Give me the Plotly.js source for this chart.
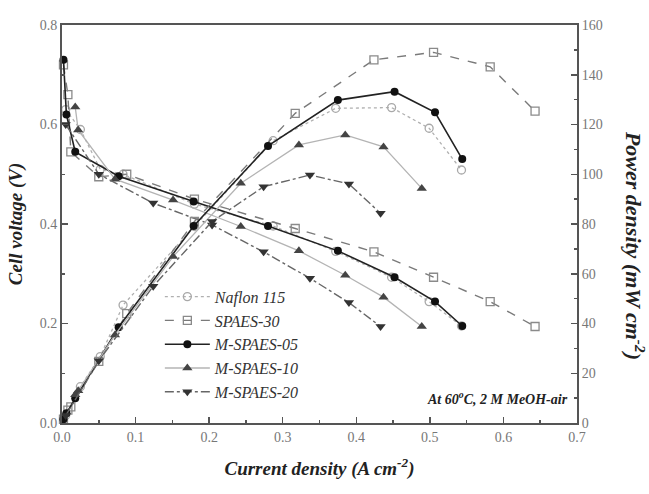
<!DOCTYPE html>
<html>
<head>
<meta charset="utf-8">
<script src="https://cdn.plot.ly/plotly-3.0.1.min.js"></script>
<style>html,body{margin:0;padding:0;background:#fff;}#chart{width:649px;height:494px;}</style>
</head>
<body>
<div id="chart"></div>
<script>
// ---- data ----
const seriesNames = ["Naflon 115", "SPAES-30", "M-SPAES-05", "M-SPAES-10", "M-SPAES-20"];

const naflonJ = [0.005, 0.025, 0.052, 0.083, 0.18, 0.287, 0.372, 0.448, 0.499, 0.543];
const naflonV = [0.63, 0.59, 0.51, 0.50, 0.44, 0.396, 0.345, 0.293, 0.244, 0.195];
const naflonP = [3.0, 14.6, 26.7, 47.4, 79.0, 113.5, 126.5, 126.8, 118.5, 101.7];

const spaes30J = [0.002, 0.008, 0.012, 0.05, 0.088, 0.18, 0.317, 0.424, 0.505, 0.582, 0.643];
const spaes30V = [0.72, 0.66, 0.545, 0.495, 0.50, 0.45, 0.391, 0.344, 0.293, 0.244, 0.194];
const spaes30P = [1.5, 5.2, 6.5, 24.8, 44.0, 81.0, 124.5, 146.0, 149.0, 143.2, 125.4];

const m05J = [0.002, 0.006, 0.018, 0.077, 0.179, 0.28, 0.375, 0.452, 0.507, 0.544];
const m05V = [0.73, 0.62, 0.545, 0.496, 0.445, 0.396, 0.346, 0.293, 0.244, 0.195];
const m05P = [1.5, 3.9, 9.9, 38.5, 79.2, 111.4, 129.8, 133.2, 124.9, 106.1];

const m10J = [0.018, 0.022, 0.072, 0.151, 0.243, 0.322, 0.385, 0.437, 0.489];
const m10V = [0.635, 0.589, 0.49, 0.448, 0.395, 0.346, 0.297, 0.253, 0.194];
const m10P = [11.4, 13.0, 35.4, 66.9, 96.4, 111.8, 115.8, 111.0, 94.3];

const m20J = [0.005, 0.05, 0.124, 0.204, 0.274, 0.337, 0.39, 0.433];
const m20V = [0.60, 0.50, 0.442, 0.398, 0.344, 0.291, 0.242, 0.194];
const m20P = [3.0, 25.0, 55.0, 81.0, 95.0, 99.7, 96.1, 84.3];

const xTickVals = [0, 0.1, 0.2, 0.3, 0.4, 0.5, 0.6, 0.7];
const yTickVals = [0, 0.2, 0.4, 0.6, 0.8];
const y2TickVals = [0, 20, 40, 60, 80, 100, 120, 140, 160];

// ---- styles ----
const styles = [
  {line:{color:"#b0b0b0", width:1.3, dash:"dot"}, marker:{symbol:"circle-open", size:8, color:"#a8a8a8", line:{width:1.3}}},
  {line:{color:"#7a7a7a", width:1.4, dash:"dash"}, marker:{symbol:"square-open", size:8, color:"#8a8a8a", line:{width:1.3}}},
  {line:{color:"#222", width:1.6, dash:"solid"}, marker:{symbol:"circle", size:8, color:"#111"}},
  {line:{color:"#b4b4b4", width:1.3, dash:"solid"}, marker:{symbol:"triangle-up", size:9, color:"#444"}},
  {line:{color:"#666", width:1.4, dash:"dashdot"}, marker:{symbol:"triangle-down", size:9, color:"#333"}}
];
const Js = [naflonJ, spaes30J, m05J, m10J, m20J];
const Vs = [naflonV, spaes30V, m05V, m10V, m20V];
const Ps = [naflonP, spaes30P, m05P, m10P, m20P];

const traces = [];
for (let i = 0; i < 5; i++) {
  traces.push({x: Js[i], y: Vs[i], name: seriesNames[i], type: "scatter", mode: "lines+markers",
    line: styles[i].line, marker: styles[i].marker, cliponaxis: false, yaxis: "y"});
}
for (let i = 0; i < 5; i++) {
  traces.push({x: Js[i], y: Ps[i], name: seriesNames[i], type: "scatter", mode: "lines+markers",
    line: styles[i].line, marker: styles[i].marker, cliponaxis: false, yaxis: "y2", showlegend: false});
}

const serif = "Liberation Serif, Times New Roman, serif";
const tickFont = {family: serif, size: 14, color: "#777"};
const titleFont = {family: serif, size: 19, color: "#222"};

const layout = {
  width: 649, height: 494,
  margin: {l: 62, r: 72, t: 25, b: 71},
  paper_bgcolor: "#fff", plot_bgcolor: "#fff",
  showlegend: true,
  legend: {x: 0.19, y: 0.36, xanchor: "left", yanchor: "top", bgcolor: "rgba(0,0,0,0)",
    font: {family: serif, size: 16, color: "#333", style: "italic"}, tracegroupgap: 0, itemwidth: 45},
  xaxis: {range: [0, 0.7], tickvals: xTickVals, tickformat: ".1f", ticks: "inside", ticklen: 6, tickwidth: 1.5,
    tickcolor: "#555", showline: true, linecolor: "#555", linewidth: 2, mirror: true, showgrid: false, zeroline: false,
    minor: {dtick: 0.05, ticks: "inside", ticklen: 3, tickcolor: "#555"},
    tickfont: tickFont,
    title: {text: "<b><i>Current density (A cm<sup>-2</sup>)</i></b>", font: titleFont, standoff: 18}},
  yaxis: {range: [0, 0.8], tickvals: yTickVals, tickformat: ".1f", ticks: "inside", ticklen: 6, tickwidth: 1.5,
    tickcolor: "#555", showline: true, linecolor: "#555", linewidth: 2, showgrid: false, zeroline: false,
    minor: {dtick: 0.1, ticks: "inside", ticklen: 3, tickcolor: "#555"},
    tickfont: tickFont,
    title: {text: "<b><i>Cell voltage (V)</i></b>", font: titleFont, standoff: 12}},
  yaxis2: {range: [0, 160], tickvals: y2TickVals, overlaying: "y", side: "right", ticks: "inside", ticklen: 6, tickwidth: 1.5,
    tickcolor: "#555", showline: true, linecolor: "#555", linewidth: 2, showgrid: false, zeroline: false,
    minor: {dtick: 10, ticks: "inside", ticklen: 3, tickcolor: "#555"},
    tickfont: tickFont},
  annotations: [
    {xref: "paper", yref: "paper", x: 1.113, y: 0.447, text: "<b><i>Power density (mW cm<sup>-2</sup>)</i></b>",
     textangle: 90, showarrow: false, font: {family: serif, size: 22, color: "#222"}, xanchor: "center", yanchor: "middle"},
    {xref: "x", yref: "y", x: 0.69, y: 0.05, text: "<b><i>At 60<sup>o</sup>C, 2 M MeOH-air</i></b>",
     showarrow: false, xanchor: "right", yanchor: "middle", font: {family: serif, size: 14, color: "#222"}}
  ]
};

Plotly.newPlot("chart", traces, layout, {displayModeBar: false, staticPlot: true});
</script>
</body>
</html>
